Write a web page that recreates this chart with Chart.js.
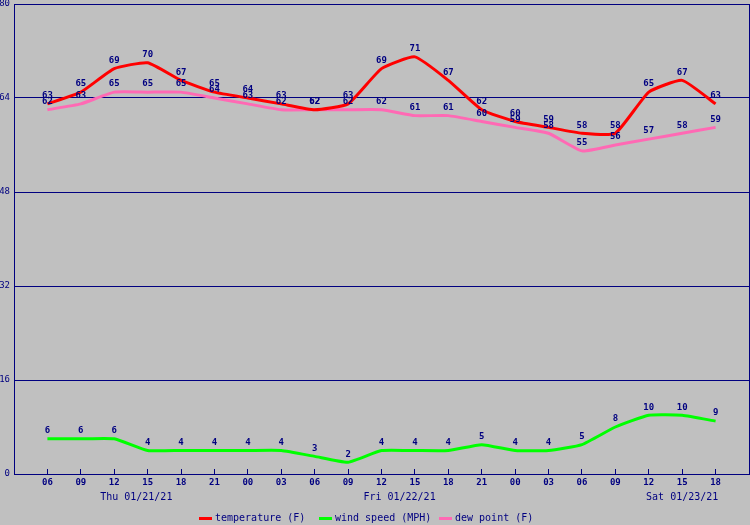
<!DOCTYPE html>
<html lang="en">
<head>
<meta charset="UTF-8">
<title>Forecast</title>
<script src="https://cdn.jsdelivr.net/npm/chart.js"></script>
<style>
    html, body { margin: 0; padding: 0; background: #c0c0c0; }
    #wrap { width: 750px; height: 525px; }
</style>
</head>
<body>
<div id="wrap"><canvas id="wx" width="750" height="525"></canvas></div>
<script>
// forecast data, 3-hourly
const hours = ['06','09','12','15','18','21','00','03','06','09','12','15','18','21','00','03','06','09','12','15','18'];
const temperature = [63,65,69,70,67,65,64,63,62,63,69,71,67,62,60,59,58,58,65,67,63];
const windSpeed = [6,6,6,4,4,4,4,4,3,2,4,4,4,5,4,4,5,8,10,10,9];
const dewPoint = [62,63,65,65,65,64,63,62,62,62,62,61,61,60,59,58,55,56,57,58,59];
const dayLabels = ['Thu 01/21/21', 'Fri 01/22/21', 'Sat 01/23/21'];
const dayAnchors = [2.66, 10.54, 19.0];   // in hour-slot units
const seriesNames = ['temperature (F)', 'wind speed (MPH)', 'dew point (F)'];

const NAVY = '#000080';
const COLORS = ['#ff0000', '#00ff00', '#ff69b4'];
const MONO = '"DejaVu Sans Mono", monospace';

function pts(arr) {
    return arr.map((v, i) => ({ x: i, y: v }));
}

const bgPlugin = {
    id: 'bg',
    beforeDraw(chart) {
        const c = chart.ctx;
        c.save();
        c.fillStyle = '#c0c0c0';
        c.fillRect(0, 0, chart.width, chart.height);
        c.restore();
    }
};

// numbers above each point
const valuesPlugin = {
    id: 'values',
    afterDatasetsDraw(chart) {
        const c = chart.ctx;
        c.save();
        c.font = 'bold 9px ' + MONO;
        c.fillStyle = NAVY;
        c.textAlign = 'center';
        c.textBaseline = 'middle';
        chart.data.datasets.forEach((ds, di) => {
            const meta = chart.getDatasetMeta(di);
            meta.data.forEach((p, i) => {
                c.fillText(String(ds.data[i].y), p.x, p.y - 8);
            });
        });
        c.restore();
    }
};

// frame, day labels, legend
const extrasPlugin = {
    id: 'extras',
    afterDraw(chart) {
        const c = chart.ctx;
        const a = chart.chartArea;
        const xs = chart.scales.x;
        c.save();
        c.strokeStyle = NAVY;
        c.lineWidth = 1;
        c.beginPath();
        c.moveTo(a.right + 0.5, a.top);
        c.lineTo(a.right + 0.5, a.bottom);
        c.stroke();

        c.font = '10px ' + MONO;
        c.fillStyle = NAVY;
        c.textAlign = 'center';
        c.textBaseline = 'middle';
        dayLabels.forEach((t, i) => {
            c.fillText(t, xs.getPixelForValue(dayAnchors[i]), 497);
        });

        c.textAlign = 'left';
        seriesNames.forEach((t, i) => {
            const x0 = 199 + i * 120;
            c.fillStyle = COLORS[i];
            c.fillRect(x0, 517, 13, 3);
            c.fillStyle = NAVY;
            c.fillText(t, x0 + 16, 518);
        });
        c.restore();
    }
};

new Chart(document.getElementById('wx'), {
    type: 'line',
    data: {
        datasets: [
            { label: seriesNames[0], data: pts(temperature), borderColor: COLORS[0], backgroundColor: COLORS[0] },
            { label: seriesNames[1], data: pts(windSpeed), borderColor: COLORS[1], backgroundColor: COLORS[1] },
            { label: seriesNames[2], data: pts(dewPoint), borderColor: COLORS[2], backgroundColor: COLORS[2] }
        ]
    },
    options: {
        responsive: false,
        animation: false,
        devicePixelRatio: 1,
        layout: { padding: { top: 4, right: 1, left: 0, bottom: 0 } },
        elements: {
            line: { borderWidth: 3, tension: 0.15 },
            point: { radius: 0 }
        },
        plugins: {
            legend: { display: false },
            tooltip: { enabled: false }
        },
        scales: {
            x: {
                type: 'linear',
                min: -1,
                max: 21,
                afterBuildTicks(axis) {
                    axis.ticks = hours.map((h, i) => ({ value: i }));
                },
                afterFit(axis) {
                    axis.height = 51;
                    axis.paddingLeft = 0;
                    axis.paddingRight = 0;
                },
                ticks: {
                    autoSkip: false,
                    maxRotation: 0,
                    padding: 8,
                    color: NAVY,
                    font: { family: MONO, size: 9, weight: 'bold' },
                    callback: (v) => hours[v]
                },
                grid: { drawOnChartArea: false, color: NAVY, tickLength: -5 },
                border: { color: NAVY }
            },
            y: {
                min: 0,
                max: 80,
                afterFit(axis) {
                    axis.width = 14;
                    axis.paddingTop = 0;
                    axis.paddingBottom = 0;
                },
                ticks: {
                    stepSize: 16,
                    padding: 4,
                    color: NAVY,
                    font: { family: MONO, size: 9 }
                },
                grid: { color: NAVY, drawTicks: false },
                border: { color: NAVY }
            }
        }
    },
    plugins: [bgPlugin, valuesPlugin, extrasPlugin]
});
</script>
</body>
</html>
